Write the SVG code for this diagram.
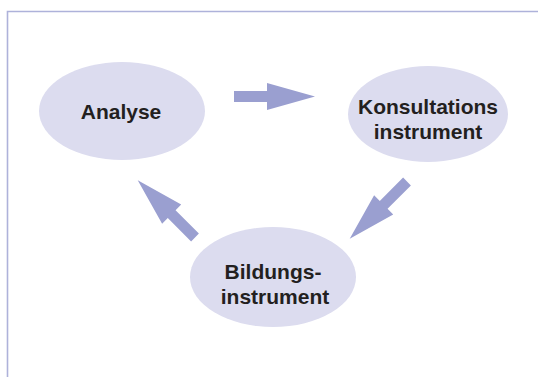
<svg xmlns="http://www.w3.org/2000/svg" xmlns:xlink="http://www.w3.org/1999/xlink" width="538" height="377" viewBox="0 0 538 377">
  <style>
    .node { fill: #dcdcef; }
    .label { font-family: "Liberation Sans", Arial, sans-serif; font-weight: bold; font-size: 21px; fill: #231f20; text-anchor: middle; }
    .arrow { fill: #9a9fd0; }
    .frame { stroke: #aeb2da; stroke-width: 1.6; fill: none; }
  </style>
  <defs>
    <polygon id="arr" class="arrow" points="0,-5.5 33,-5.5 33,-13.5 81,0 33,13.5 33,5.5 0,5.5"/>
  </defs>
  <rect width="538" height="377" fill="#ffffff"/>
  <path class="frame" d="M7.5,377 V11.5 H538"/>
  <g id="connectors">
    <use xlink:href="#arr" href="#arr" transform="translate(234,96.5)"/>
    <use xlink:href="#arr" href="#arr" transform="translate(407,181.5) rotate(135)"/>
    <use xlink:href="#arr" href="#arr" transform="translate(195,237.5) rotate(-135)"/>
  </g>
  <g id="analyse">
    <ellipse class="node" cx="122" cy="111" rx="83" ry="49"/>
    <text class="label" x="121" y="118.5">Analyse</text>
  </g>
  <g id="konsultationsinstrument">
    <ellipse class="node" cx="428" cy="114" rx="80" ry="48"/>
    <text class="label" x="428" y="113.5">Konsultations</text>
    <text class="label" x="428" y="139">instrument</text>
  </g>
  <g id="bildungsinstrument">
    <ellipse class="node" cx="273" cy="277" rx="83" ry="50"/>
    <text class="label" x="273" y="278.5">Bildungs-</text>
    <text class="label" x="275" y="303.5">instrument</text>
  </g>
</svg>
